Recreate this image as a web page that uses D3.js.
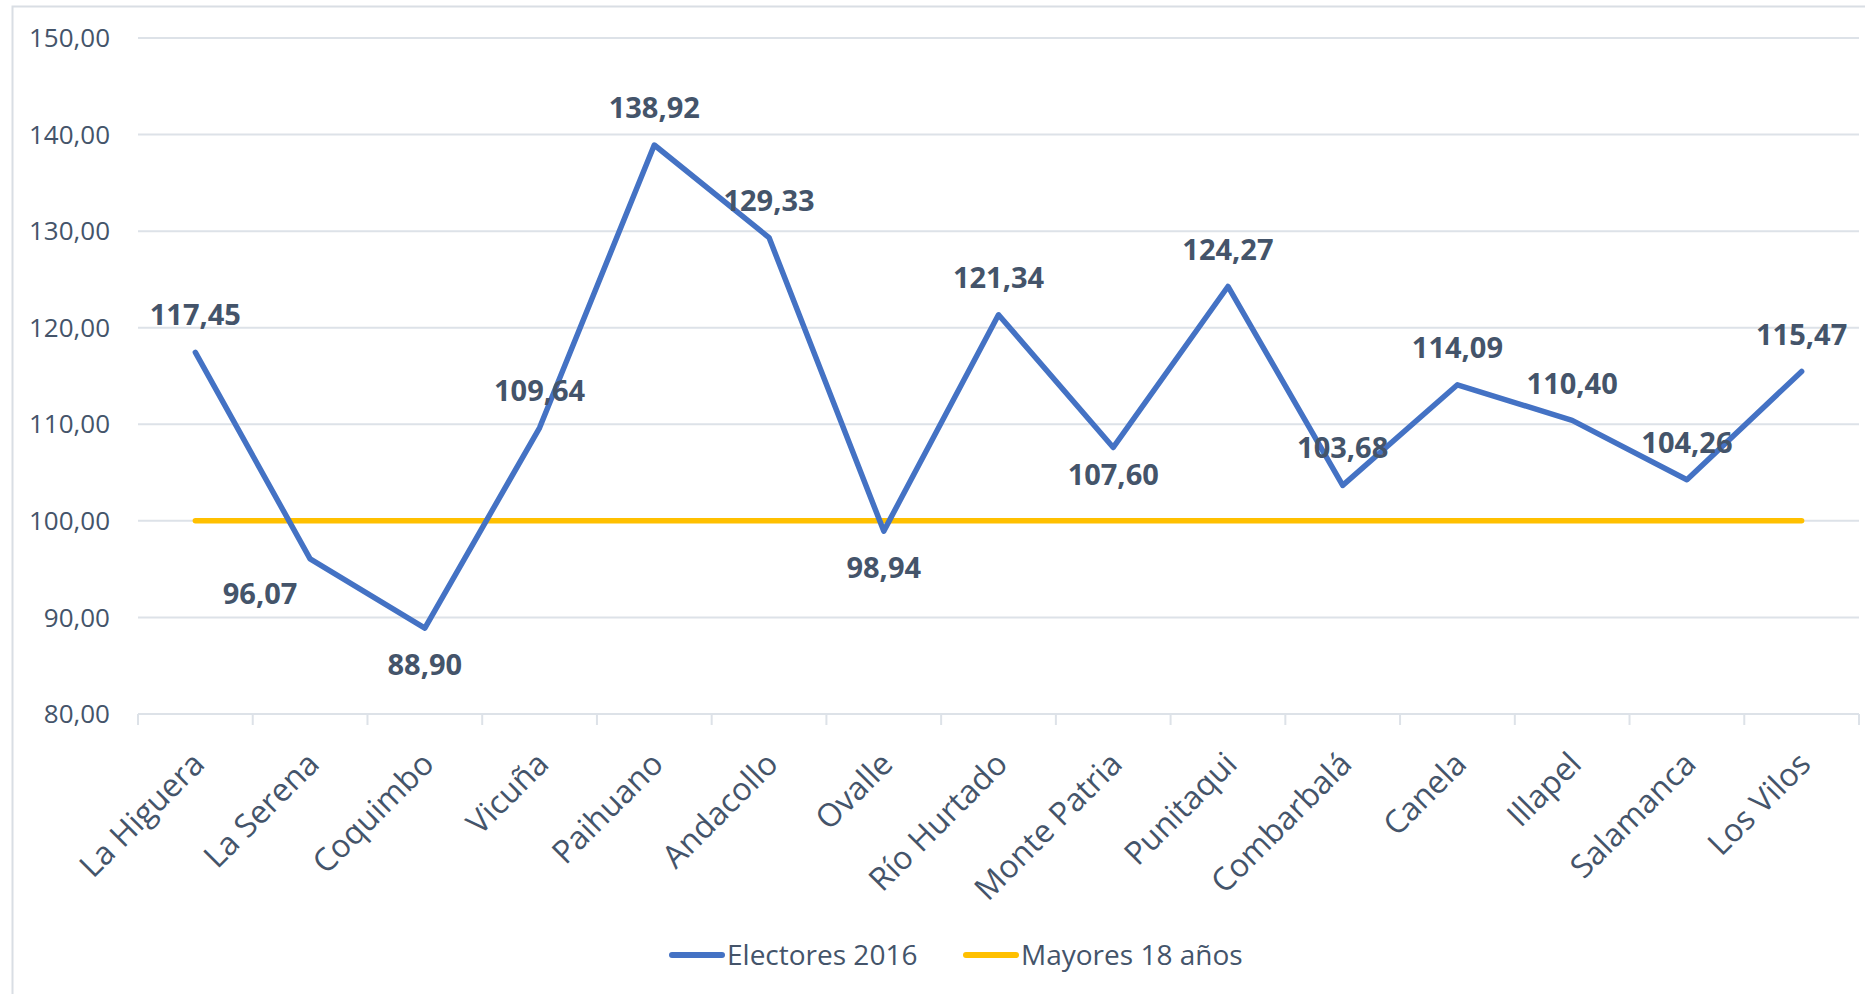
<!DOCTYPE html>
<html>
<head>
<meta charset="utf-8">
<script src="https://cdn.jsdelivr.net/npm/d3@7"></script>
<style>
body{margin:0;background:#fff;}
text{font-family:"Open Sans",sans-serif;fill:#44546A;}
</style>
</head>
<body>
<div id="chart"></div>
<script>
var w=1865;
var h=994;

// datos
var comunas=["La Higuera","La Serena","Coquimbo","Vicuña","Paihuano","Andacollo","Ovalle","Río Hurtado","Monte Patria","Punitaqui","Combarbalá","Canela","Illapel","Salamanca","Los Vilos"];
var electores=[117.45,96.07,88.90,109.64,138.92,129.33,98.94,121.34,107.60,124.27,103.68,114.09,110.40,104.26,115.47];
var mayores=[100,100,100,100,100,100,100,100,100,100,100,100,100,100,100];
var yTicks=[80,90,100,110,120,130,140,150];
// donde va cada etiqueta: t arriba, b abajo, bl abajo-izquierda
var labelPos=["t","bl","b","t","t","t","b","t","b","t","t","t","t","t","t"];

var fmt=function(v){return d3.format(".2f")(v).replace(".",",");};

var svg=d3.select("#chart").append("svg")
          .attr("width",w)
          .attr("height",h);

svg.append("rect")
   .attr("x",12.5).attr("y",6.5)
   .attr("width",w).attr("height",h)
   .attr("fill","none")
   .attr("stroke","#D9DEE4")
   .attr("stroke-width",2);

var x=d3.scaleBand().domain(comunas).range([138,1859]).padding(0);
var y=d3.scaleLinear().domain([80,150]).range([714,38]);
var cx=function(d){return x(d)+x.bandwidth()/2;};

// grid
svg.append("g").selectAll("line")
   .data(yTicks)
   .enter().append("line")
     .attr("x1",138).attr("x2",1859)
     .attr("y1",function(d){return y(d);})
     .attr("y2",function(d){return y(d);})
     .attr("stroke","#DDE2E8")
     .attr("stroke-width",2);

svg.append("g").selectAll("text")
   .data(yTicks)
   .enter().append("text")
     .attr("x",110)
     .attr("y",function(d){return y(d);})
     .attr("dy","0.35em")
     .attr("text-anchor","end")
     .style("font-size","26px")
     .text(fmt);

// ticks del eje x
var bounds=comunas.map(function(d){return x(d);}).concat([1859]);
svg.append("g").selectAll("line")
   .data(bounds)
   .enter().append("line")
     .attr("x1",function(d){return d;}).attr("x2",function(d){return d;})
     .attr("y1",714).attr("y2",725)
     .attr("stroke","#DDE2E8")
     .attr("stroke-width",2);

svg.append("g").selectAll("text")
   .data(comunas)
   .enter().append("text")
     .attr("transform",function(d){return "translate("+(cx(d)+3)+",758) rotate(-45)";})
     .attr("text-anchor","end")
     .attr("dy","0.35em")
     .style("font-size","32px")
     .text(function(d){return d;});

// lineas
var line=d3.line()
           .x(function(d,i){return cx(comunas[i]);})
           .y(function(d){return y(d);});

svg.append("path")
   .datum(mayores)
   .attr("d",line)
   .attr("fill","none")
   .attr("stroke","#FFC000")
   .attr("stroke-width",5.5)
   .attr("stroke-linecap","round");

svg.append("path")
   .datum(electores)
   .attr("d",line)
   .attr("fill","none")
   .attr("stroke","#4472C4")
   .attr("stroke-width",5.5)
   .attr("stroke-linejoin","round")
   .attr("stroke-linecap","round");

// etiquetas
svg.append("g").selectAll("text")
   .data(electores)
   .enter().append("text")
     .attr("x",function(d,i){return cx(comunas[i])+(labelPos[i]==="bl"?-50:0);})
     .attr("y",function(d,i){
        var p=labelPos[i];
        if(p==="t") return y(d)-37;
        if(p==="bl") return y(d)+35;
        return y(d)+(i===8?27:37);
     })
     .attr("dy","0.35em")
     .attr("text-anchor","middle")
     .style("font-size","29px")
     .style("font-weight","bold")
     .text(fmt);

// leyenda
var leyenda=[{name:"Electores 2016",color:"#4472C4",x:670},{name:"Mayores 18 años",color:"#FFC000",x:964}];
var lg=svg.append("g").selectAll("g")
          .data(leyenda)
          .enter().append("g")
          .attr("transform",function(d){return "translate("+d.x+",955)";});
lg.append("line")
  .attr("x1",2).attr("x2",52)
  .attr("stroke",function(d){return d.color;})
  .attr("stroke-width",6)
  .attr("stroke-linecap","round");
lg.append("text")
  .attr("x",57)
  .attr("dy","0.35em")
  .style("font-size","28px")
  .text(function(d){return d.name;});
</script>
</body>
</html>
